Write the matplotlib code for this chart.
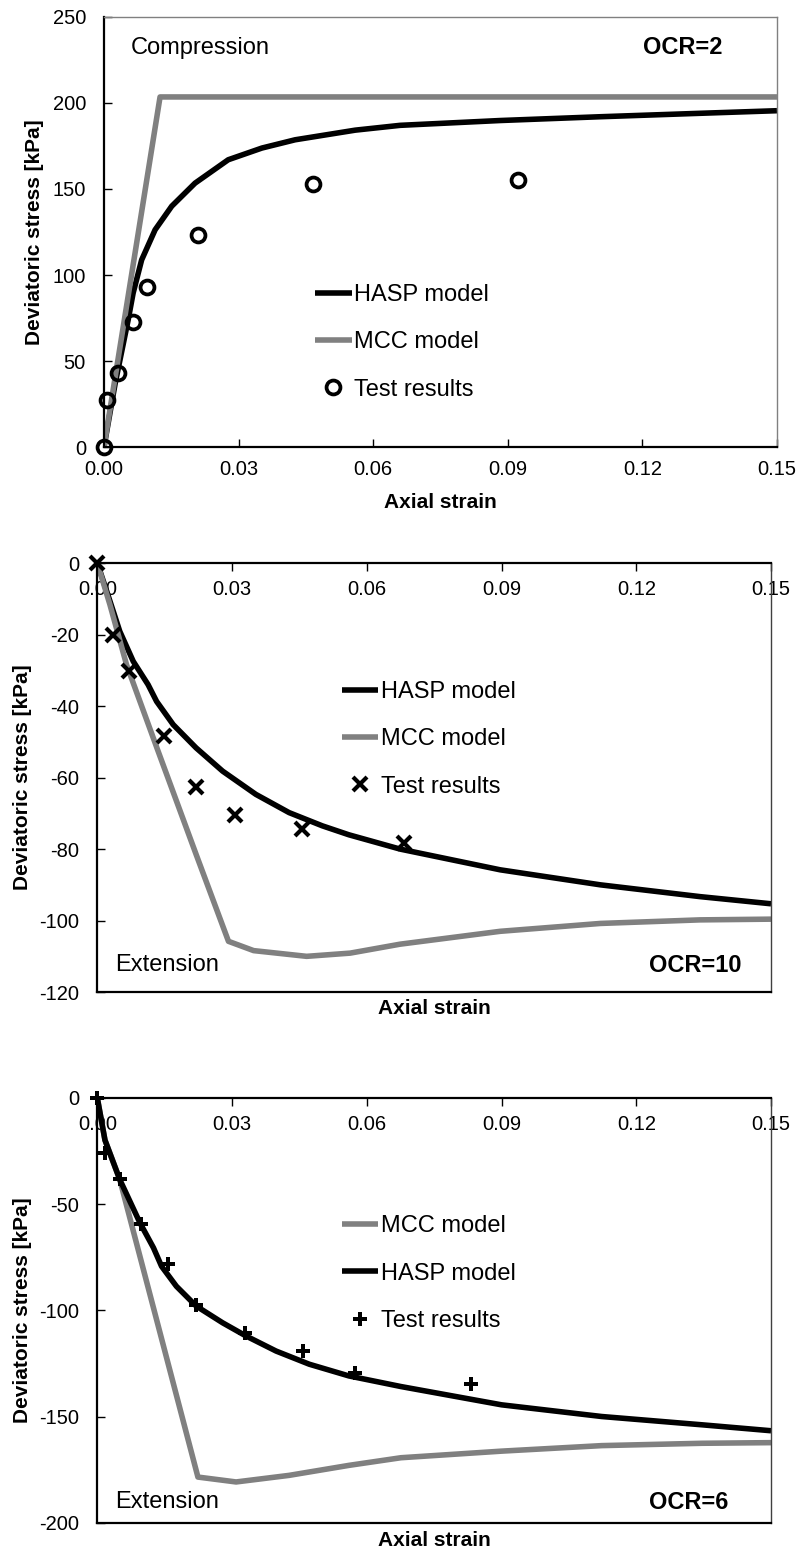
import matplotlib
matplotlib.use('Agg')
import matplotlib.pyplot as plt

plt.rcParams['font.family'] = ['Liberation Sans', 'DejaVu Sans']
plt.rcParams['axes.unicode_minus'] = False

# ---- OCR=2, compression ----
hasp1_x = [0, 0.0025, 0.0054, 0.0065, 0.0084, 0.0114, 0.0151, 0.0203, 0.0277, 0.0352,
           0.0426, 0.056, 0.066, 0.0883, 0.1106, 0.1329, 0.15]
hasp1_y = [0, 37, 74, 89.5, 108.8, 126.3, 140, 153.4, 167, 173.8,
           178.6, 184.2, 187, 189.8, 192, 194, 195.5]
mcc1_x = [0, 0.0125, 0.15]
mcc1_y = [0, 203.5, 203.5]
test1_x = [0, 0.0006, 0.0032, 0.0065, 0.0097, 0.0209, 0.0467, 0.0923]
test1_y = [0, 27.2, 43.1, 72.8, 92.8, 123.1, 153, 155]

# ---- OCR=10, extension ----
hasp2_x = [0, 0.0021, 0.005, 0.008, 0.0113, 0.0132, 0.0169, 0.022, 0.0279, 0.0353,
           0.0427, 0.0501, 0.056, 0.0674, 0.0897, 0.112, 0.1342, 0.15]
hasp2_y = [0, -7.9, -19.1, -27.5, -34, -38.7, -45.2, -51.7, -58.2, -64.7,
           -69.8, -73.5, -76, -80, -85.8, -90, -93.3, -95.3]
mcc2_x = [0, 0.0028, 0.0065, 0.0135, 0.022, 0.0292, 0.0348, 0.0466, 0.0563, 0.0674,
          0.0897, 0.112, 0.1342, 0.15]
mcc2_y = [0, -11.6, -28.4, -52.5, -81.5, -105.8, -108.4, -110, -109.1, -106.6,
          -103, -100.8, -99.8, -99.6]
test2_x = [0, 0.0034, 0.007, 0.0148, 0.0219, 0.0307, 0.0456, 0.0682]
test2_y = [0, -20.2, -30.3, -48.4, -62.6, -70.6, -74.5, -78.4]

# ---- OCR=6, extension ----
hasp3_x = [0, 0.0017, 0.005, 0.0095, 0.0125, 0.0143, 0.0176, 0.022, 0.0279, 0.0331,
           0.0398, 0.0472, 0.056, 0.0676, 0.09, 0.1123, 0.1346, 0.15]
hasp3_y = [0, -19.8, -38.4, -58.8, -70.5, -79.2, -88.6, -97.9, -105.8, -112,
           -119.1, -125.3, -130.8, -135.8, -144.4, -149.9, -153.8, -156.6]
mcc3_x = [0, 0.0017, 0.005, 0.0224, 0.0309, 0.0427, 0.056, 0.0676, 0.09, 0.1123, 0.1346, 0.15]
mcc3_y = [0, -19.8, -38.4, -178.4, -180.7, -177.6, -172.9, -169.3, -166.2, -163.6, -162.5, -162.2]
test3_x = [0, 0.0017, 0.005, 0.0098, 0.0157, 0.0219, 0.0329, 0.0457, 0.0574, 0.0831]
test3_y = [0, -25.7, -38.2, -59.3, -78.3, -97.5, -110.8, -119, -129.2, -134.7]

xticks = [0, 0.03, 0.06, 0.09, 0.12, 0.15]
xticklabels = ['0.00', '0.03', '0.06', '0.09', '0.12', '0.15']

GRAY = '#808080'
LW = 4.0
TICK_FS = 14.5
TXT_FS = 17

fig = plt.figure(figsize=(8.01, 15.55), dpi=100)
ax1 = fig.add_axes([0.1298, 0.7125, 0.8402, 0.2766])
ax2 = fig.add_axes([0.1215, 0.3620, 0.8411, 0.2759])
ax3 = fig.add_axes([0.1215, 0.0206, 0.8411, 0.2733])

leg_kw = dict(loc='upper left', frameon=False, fontsize=TXT_FS, handlelength=1.55,
              handletextpad=0.1, labelspacing=1.07, borderpad=0, borderaxespad=0,
              numpoints=1)

# top plot
ax1.plot(hasp1_x, hasp1_y, color='black', lw=LW, label='HASP model', solid_capstyle='butt')
ax1.plot(mcc1_x, mcc1_y, color=GRAY, lw=LW, label='MCC model', solid_capstyle='butt')
ax1.plot(test1_x, test1_y, 'o', ms=10, mfc='none', mec='black', mew=2.7,
         label='Test results', clip_on=False, zorder=5)
ax1.set_xlim(0, 0.15)
ax1.set_ylim(0, 250)
ax1.set_yticks(range(0, 251, 50))
ax1.set_xticks(xticks)
ax1.set_xticklabels(xticklabels)
ax1.tick_params(axis='both', direction='in', length=6, width=1, labelsize=TICK_FS)
ax1.tick_params(axis='y', pad=13)
ax1.tick_params(axis='x', pad=9)
for s in ['left', 'bottom']:
    ax1.spines[s].set_linewidth(1.6)
for s in ['top', 'right']:
    ax1.spines[s].set_color(GRAY)
    ax1.spines[s].set_linewidth(1.0)
ax1.set_ylabel('Deviatoric stress [kPa]', fontsize=15, fontweight='bold')
ax1.set_xlabel('Axial strain', fontsize=15, fontweight='bold')
ax1.yaxis.set_label_coords(-0.089, 0.5)
ax1.xaxis.set_label_coords(0.5, -0.107)
ax1.text(0.040, 0.928, 'Compression', transform=ax1.transAxes, fontsize=TXT_FS, va='center')
ax1.text(0.801, 0.928, 'OCR=2', transform=ax1.transAxes, fontsize=TXT_FS,
         fontweight='bold', va='center')
ax1.legend(bbox_to_anchor=(0.3135, 0.379), **leg_kw)


def extension_axes(ax, ylo, ystep, ylab_x, xlab_y):
    ax.set_xlim(0, 0.15)
    ax.set_ylim(ylo, 0)
    ax.set_yticks(range(ylo, 1, ystep))
    ax.set_xticks(xticks)
    ax.set_xticklabels(xticklabels)
    ax.xaxis.set_ticks_position('top')
    ax.tick_params(axis='both', direction='in', length=6, width=1, labelsize=TICK_FS)
    ax.tick_params(axis='y', pad=13)
    ax.tick_params(axis='x', labeltop=True, labelbottom=False, pad=-26)
    for s in ['left', 'top', 'bottom']:
        ax.spines[s].set_linewidth(1.6)
    ax.spines['right'].set_color('#404040')
    ax.spines['right'].set_linewidth(1.0)
    ax.set_ylabel('Deviatoric stress [kPa]', fontsize=15, fontweight='bold')
    ax.set_xlabel('Axial strain', fontsize=15, fontweight='bold')
    ax.yaxis.set_label_coords(ylab_x, 0.5)
    ax.xaxis.set_label_coords(0.5, xlab_y)


# middle plot
ax2.plot(hasp2_x, hasp2_y, color='black', lw=LW, label='HASP model', solid_capstyle='butt')
ax2.plot(mcc2_x, mcc2_y, color=GRAY, lw=LW, label='MCC model', solid_capstyle='butt')
ax2.plot(test2_x, test2_y, 'x', ms=10, mec='black', mew=3,
         label='Test results', clip_on=False, zorder=5)
extension_axes(ax2, -120, 20, -0.097, -0.016)
ax2.text(0.026, 0.063, 'Extension', transform=ax2.transAxes, fontsize=TXT_FS, va='center')
ax2.text(0.819, 0.063, 'OCR=10', transform=ax2.transAxes, fontsize=TXT_FS,
         fontweight='bold', va='center')
ax2.legend(bbox_to_anchor=(0.363, 0.725), **leg_kw)

# bottom plot (legend order differs)
ax3.plot(mcc3_x, mcc3_y, color=GRAY, lw=LW, label='MCC model', solid_capstyle='butt')
ax3.plot(hasp3_x, hasp3_y, color='black', lw=LW, label='HASP model', solid_capstyle='butt')
ax3.plot(test3_x, test3_y, 'P', ms=9.5, mfc='black', mec='black', mew=0,
         label='Test results', clip_on=False, zorder=5)
extension_axes(ax3, -200, 50, -0.097, -0.02)
ax3.text(0.026, 0.049, 'Extension', transform=ax3.transAxes, fontsize=TXT_FS, va='center')
ax3.text(0.819, 0.049, 'OCR=6', transform=ax3.transAxes, fontsize=TXT_FS,
         fontweight='bold', va='center')
ax3.legend(bbox_to_anchor=(0.363, 0.724), **leg_kw)

fig.savefig('out.png', dpi=100)
